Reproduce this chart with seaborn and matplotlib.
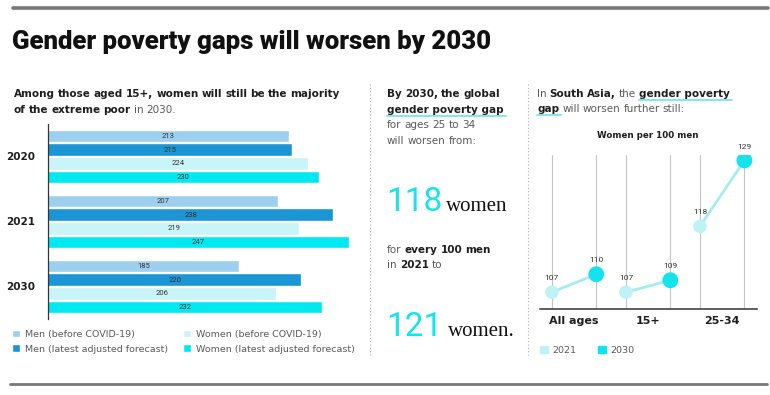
"""
Gender poverty gaps infographic, rebuilt with seaborn
"""

# ==============================================================================

import numpy as np
import pandas as pd
import matplotlib
matplotlib.use("Agg")
import matplotlib.pyplot as plt
import seaborn as sns
from matplotlib.lines import Line2D
from matplotlib.patches import Patch

# ==============================================================================
# ========== Data ==========
years = ["2020", "2021", "2030"]
series = ["Men (before COVID-19)", "Men (latest adjusted forecast)",
          "Women (before COVID-19)", "Women (latest adjusted forecast)"]
men_before = [213, 207, 185]
men_latest = [215, 238, 220]
women_before = [224, 219, 206]
women_latest = [230, 247, 232]

global_2021 = 118
global_2030 = 121

age_groups = ["All ages", "15+", "25-34"]
sa_years = ["2021", "2030"]
sa_2021 = [107, 107, 118]
sa_2030 = [110, 109, 129]

# ==============================================================================
# ========== Style ==========
W, H = 770, 395
sns.set_style("white")
plt.rcParams["font.family"] = ["DejaVu Sans"]
NARROW = ["Roboto", "DejaVu Sans"]
SERIF = ["Liberation Serif", "DejaVu Serif"]
DARK = "#1e1e1e"
GREY = "#5a5a5a"
CYAN = "#14e4ec"
BODY = 7.5
bar_colors = ["#9dcfee", "#1b95d3", "#c9f5f8", "#00e9f0"]
pt_colors = {"2021": "#bdf3f5", "2030": "#14e3ec"}

fig = plt.figure(figsize=(W / 100, H / 100), dpi=100)
renderer = fig.canvas.get_renderer()


def fx(x):
    return x / W


def fy(y):
    return 1 - y / H


def rich_line(x, y, parts, size=BODY):
    # parts: (text, bold, underline) pieces, one space between them
    gap = size * 100 / 72 * 0.29
    for txt, bold, under in parts:
        t = fig.text(fx(x), fy(y), txt, fontsize=size,
                     fontweight="bold" if bold else "normal",
                     color=DARK if bold else GREY, ha="left", va="baseline")
        bb = t.get_window_extent(renderer)
        if under:
            fig.add_artist(Line2D([fx(bb.x0), fx(bb.x1 + 2)], [fy(y + 3), fy(y + 3)],
                                  color="#84e6ec", lw=1.4))
        x = bb.x1 + gap


# ========== Rules and separators ==========
fig.add_artist(Line2D([fx(13), fx(768)], [fy(8), fy(8)], color="#777777", lw=2.6))
fig.add_artist(Line2D([fx(10), fx(767)], [fy(384), fy(384)], color="#777777", lw=2.0))
for xs in [370, 528]:
    fig.add_artist(Line2D([fx(xs), fx(xs)], [fy(84), fy(355)], color="#b0b0b0",
                          lw=0.8, ls=(0, (1, 2))))

fig.text(fx(12), fy(49), "Gender poverty gaps will worsen by 2030", fontsize=18.5,
         fontweight="heavy", family=NARROW, color="#111111", ha="left", va="baseline")

# ========== Left panel: bars ==========
rich_line(14, 97, [("Among", True, False), ("those", True, False), ("aged", True, False),
                   ("15+,", True, False), ("women", True, False), ("will", True, False),
                   ("still", True, False), ("be", True, False), ("the", True, False),
                   ("majority", True, False)])
rich_line(14, 113, [("of", True, False), ("the", True, False), ("extreme", True, False),
                    ("poor", True, False), ("in", False, False), ("2030.", False, False)])

bar_df = pd.concat([pd.DataFrame({"year": years, "series": s, "value": v})
                    for s, v in zip(series, [men_before, men_latest, women_before, women_latest])],
                   ignore_index=True)

ax = fig.add_axes([fx(48), fy(319), fx(365) - fx(48), (319 - 124) / H])
sns.barplot(data=bar_df, y="year", x="value", hue="series", hue_order=series,
            order=years, palette=bar_colors, saturation=1, orient="h", width=0.85,
            gap=0.1, ax=ax)
for cont in ax.containers:
    ax.bar_label(cont, label_type="center", fmt="{:.0f}", fontsize=5.5,
                 color="#333333", family=NARROW)
ax.set_xlim(77, 256)
ax.set_ylim(2.5, -0.5)
ax.set_xlabel("")
ax.set_ylabel("")
ax.set_xticks([])
ax.tick_params(axis="y", length=0, pad=9, labelsize=7.5)
for lab in ax.get_yticklabels():
    lab.set_fontweight("bold")
    lab.set_color(DARK)
sns.despine(ax=ax, top=True, right=True, bottom=True)
ax.spines["left"].set_color("#333333")
ax.spines["left"].set_linewidth(0.9)
handles, labels = ax.get_legend_handles_labels()
ax.legend(handles, labels, loc="upper left", bbox_to_anchor=(fx(3), fy(321)),
          bbox_transform=fig.transFigure, ncol=2, frameon=False, fontsize=6.8,
          handlelength=0.9, handleheight=0.9, handletextpad=0.5,
          columnspacing=1.6, labelspacing=0.6, labelcolor=GREY)

# ========== Middle panel: big numbers ==========
rich_line(387, 97, [("By", True, False), ("2030,", True, False), ("the", True, False),
                    ("global", True, False)])
rich_line(387, 113, [("gender poverty gap", True, True)])
rich_line(387, 128, [("for", False, False), ("ages", False, False), ("25", False, False),
                     ("to", False, False), ("34", False, False)])
rich_line(387, 144, [("will", False, False), ("worsen", False, False), ("from:", False, False)])

fig.text(fx(386), fy(211), str(global_2021), fontsize=24, family=NARROW, color=CYAN,
         ha="left", va="baseline")
fig.text(fx(446), fy(211), "women", fontsize=15, family=SERIF, color="#111111",
         ha="left", va="baseline")
rich_line(387, 253, [("for", False, False), ("every", True, False), ("100", True, False),
                     ("men", True, False)])
rich_line(387, 268, [("in", False, False), ("2021", True, False), ("to", False, False)])
fig.text(fx(386), fy(336), str(global_2030), fontsize=24, family=NARROW, color=CYAN,
         ha="left", va="baseline")
fig.text(fx(448), fy(336), "women.", fontsize=15, family=SERIF, color="#111111",
         ha="left", va="baseline")

# ========== Right panel: South Asia ==========
rich_line(537, 97, [("In", False, False), ("South", True, False), ("Asia,", True, False),
                    ("the", False, False), ("gender poverty", True, True)])
rich_line(537, 112, [("gap", True, True), ("will", False, False), ("worsen", False, False),
                     ("further", False, False), ("still:", False, False)])
fig.text(fx(648), fy(135), "Women per 100 men", fontsize=6.3, fontweight="bold",
         color=DARK, ha="center", va="center")

offsets = {"2021": -0.3, "2030": 0.3}
line_df = pd.DataFrame({"group": age_groups * 2,
                        "year": ["2021"] * 3 + ["2030"] * 3,
                        "value": sa_2021 + sa_2030})
line_df["xpos"] = line_df["group"].map({g: i for i, g in enumerate(age_groups)}) \
    + line_df["year"].map(offsets)

ax2 = fig.add_axes([fx(540), fy(309), fx(757) - fx(540), (309 - 155) / H])
sns.lineplot(data=line_df, x="xpos", y="value", units="group", estimator=None,
             color="#a6ecef", lw=2, ax=ax2, zorder=2)
sns.scatterplot(data=line_df, x="xpos", y="value", hue="year", size="year",
                sizes={"2021": 95, "2030": 130}, palette=pt_colors, linewidth=0,
                ax=ax2, legend=False, zorder=3)
for _, r in line_df.iterrows():
    ax2.annotate(str(r["value"]), (r["xpos"], r["value"]), xytext=(0, 10),
                 textcoords="offset points", ha="center", va="center",
                 fontsize=6, family=NARROW, color="#333333")
ax2.set_xlim(-0.46, 2.47)
ax2.set_ylim(104.2, 129.9)
ax2.set_xticks(line_df["xpos"].values, minor=True)
ax2.set_xticks(range(len(age_groups)), age_groups)
ax2.grid(axis="x", which="minor", color="#c4c4c4", lw=0.8)
ax2.grid(axis="x", which="major", visible=False)
ax2.grid(axis="y", visible=False)
ax2.set_yticks([])
ax2.set_xlabel("")
ax2.set_ylabel("")
ax2.tick_params(axis="x", which="both", length=0, pad=5, labelsize=8)
for lab in ax2.get_xticklabels():
    lab.set_fontweight("bold")
    lab.set_color(DARK)
sns.despine(ax=ax2, left=True, top=True, right=True)
ax2.spines["bottom"].set_color("#333333")
ax2.spines["bottom"].set_linewidth(1.1)
ax2.legend([Patch(color=pt_colors[y]) for y in sa_years], sa_years, loc="upper left",
           bbox_to_anchor=(fx(531), fy(337)), bbox_transform=fig.transFigure,
           ncol=2, frameon=False, fontsize=6.8, handlelength=0.9, handleheight=0.9,
           handletextpad=0.5, columnspacing=2.2, labelcolor=GREY)

fig.savefig("out.png", dpi=100)
